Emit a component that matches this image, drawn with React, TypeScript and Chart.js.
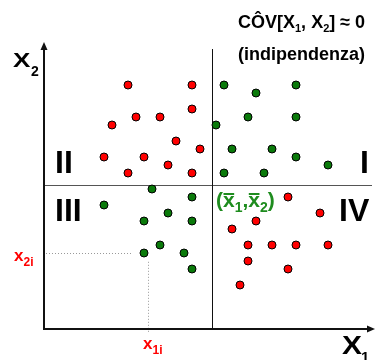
import React, { useEffect, useRef } from "react";
import { Chart, registerables } from "chart.js";

Chart.register(...registerables);

// Quadrants I & III (positive deviation products) are green, II & IV red
const redX = [11, 19, 19, 12, 15, 9, 17, 20, 8, 13, 16, 11, 19, 31, 35, 27, 24, 26, 29, 32, 36, 26, 31, 25];
const redY = [31, 31, 28, 27, 27, 26, 24, 23, 22, 22, 21, 20, 20, 17, 15, 14, 13, 11, 11, 11, 11, 9, 8, 6];
const greenX = [23, 27, 32, 26, 32, 22, 24, 29, 32, 36, 23, 28, 14, 19, 8, 16, 13, 19, 15, 13, 18, 19];
const greenY = [31, 30, 31, 27, 27, 26, 23, 23, 22, 21, 20, 20, 18, 17, 16, 15, 14, 14, 11, 10, 10, 8];

const meanX1 = 21.5;
const meanX2 = 18.5;
const originX = 0.5;
const originY = 0.5;
const sampleX1 = 13;
const sampleX2 = 10;

const X_MIN = -5;
const X_MAX = 42;
const Y_MIN = -3.375;
const Y_MAX = 41.625;

const FONT = '"Liberation Sans", Arial, sans-serif';
const RED = "#ff0000";
const GREEN = "#0a7a0a";
const LABEL_GREEN = "#1e8c1e";

type Part = [string, string, number];

function runs(ctx: CanvasRenderingContext2D, x: number, y: number, parts: Part[]) {
  let cx = x;
  const pos: number[][] = [];
  for (const [t, font, dy] of parts) {
    ctx.font = font;
    ctx.fillText(t, cx, y + dy);
    const w = ctx.measureText(t).width;
    pos.push([cx, cx + w]);
    cx += w;
  }
  return pos;
}

const overlay = {
  id: "overlay",
  beforeDatasetsDraw(chart: any) {
    const { ctx, scales } = chart;
    const X = (v: number) => scales.x.getPixelForValue(v);
    const Y = (v: number) => scales.y.getPixelForValue(v);
    ctx.save();

    // mean lines
    ctx.lineWidth = 1;
    ctx.strokeStyle = "#555";
    const hy = Math.round(Y(meanX2)) + 0.5;
    ctx.beginPath();
    ctx.moveTo(X(originX), hy);
    ctx.lineTo(X(41.5), hy);
    ctx.stroke();
    ctx.strokeStyle = "#111";
    const vx = Math.round(X(meanX1)) + 0.5;
    ctx.beginPath();
    ctx.moveTo(vx, Y(originY));
    ctx.lineTo(vx, Y(35.5));
    ctx.stroke();

    // dotted guides
    ctx.strokeStyle = "#999";
    ctx.setLineDash([1, 2]);
    const dy = Math.round(Y(sampleX2)) + 0.5;
    ctx.beginPath();
    ctx.moveTo(X(originX) + 2, dy);
    ctx.lineTo(X(sampleX1 - 1.6), dy);
    ctx.stroke();
    const dx = Math.round(X(sampleX1 + 0.5)) + 0.5;
    ctx.beginPath();
    ctx.moveTo(dx, Y(sampleX2 - 1.1));
    ctx.lineTo(dx, Y(0));
    ctx.stroke();
    ctx.setLineDash([]);

    // axes
    ctx.strokeStyle = "#111";
    ctx.fillStyle = "#111";
    ctx.lineWidth = 2;
    const ox = X(originX);
    const oy = Y(originY);
    const topY = Y(36.375);
    const rightX = X(X_MAX) - 1;
    ctx.beginPath();
    ctx.moveTo(ox, oy + 1);
    ctx.lineTo(ox, topY + 6);
    ctx.moveTo(ox - 1, oy);
    ctx.lineTo(rightX - 6, oy);
    ctx.stroke();
    ctx.beginPath();
    ctx.moveTo(ox, topY);
    ctx.lineTo(ox - 3.5, topY + 8);
    ctx.lineTo(ox + 3.5, topY + 8);
    ctx.closePath();
    ctx.fill();
    ctx.beginPath();
    ctx.moveTo(rightX, oy);
    ctx.lineTo(rightX - 8, oy - 3.5);
    ctx.lineTo(rightX - 8, oy + 3.5);
    ctx.closePath();
    ctx.fill();
    ctx.restore();
  },
  afterDatasetsDraw(chart: any) {
    const { ctx } = chart;
    ctx.save();
    ctx.textBaseline = "alphabetic";
    ctx.textAlign = "left";

    // title
    ctx.fillStyle = "#000";
    const tf = `bold 18px ${FONT}`;
    const sf = `bold 11px ${FONT}`;
    runs(ctx, 238, 28, [
      ["CÔV[X", tf, 0],
      ["1", sf, 4],
      [", X", tf, 0],
      ["2", sf, 4],
      ["] ≈ 0", tf, 0],
    ]);
    ctx.font = `bold 18px ${FONT}`;
    ctx.fillText("(indipendenza)", 238, 60);

    // axis names (wide bold)
    ctx.save();
    ctx.translate(13, 67);
    ctx.scale(1.3, 1);
    ctx.font = `bold 20px ${FONT}`;
    ctx.fillText("X", 0, 0);
    ctx.restore();
    ctx.font = `bold 14px ${FONT}`;
    ctx.fillText("2", 31, 76);

    ctx.save();
    ctx.translate(342, 354);
    ctx.scale(1.15, 1);
    ctx.font = `bold 26px ${FONT}`;
    ctx.fillText("X", 0, 0);
    ctx.restore();
    ctx.font = `bold 15px ${FONT}`;
    ctx.fillText("1", 361, 362);

    // quadrant numerals
    ctx.font = `bold 32px ${FONT}`;
    ctx.fillText("II", 55, 173);
    ctx.fillText("I", 360, 173);
    ctx.fillText("III", 55, 221);
    ctx.fillText("IV", 339, 221);

    // mean label
    ctx.fillStyle = LABEL_GREEN;
    const mf = `bold 21px ${FONT}`;
    const msf = `bold 14px ${FONT}`;
    const pos = runs(ctx, 216, 207, [
      ["(", mf, 0],
      ["x", mf, 0],
      ["1", msf, 5],
      [",", mf, 0],
      ["x", mf, 0],
      ["2", msf, 5],
      [")", mf, 0],
    ]);
    ctx.fillRect(pos[1][0] + 0.5, 193, pos[1][1] - pos[1][0] - 1, 2);
    ctx.fillRect(pos[4][0] + 0.5, 193, pos[4][1] - pos[4][0] - 1, 2);

    // sample labels
    ctx.fillStyle = RED;
    runs(ctx, 14, 261, [
      ["x", `bold 17px ${FONT}`, 0],
      ["2i", `bold 12px ${FONT}`, 5],
    ]);
    runs(ctx, 143, 349, [
      ["x", `bold 17px ${FONT}`, 0],
      ["1i", `bold 12px ${FONT}`, 5],
    ]);
    ctx.restore();
  },
};

export default function App() {
  const ref = useRef<HTMLCanvasElement | null>(null);
  useEffect(() => {
    if (!ref.current) return;
    const chart = new Chart(ref.current, {
      type: "scatter",
      data: {
        datasets: [
          {
            label: "discordanti",
            data: redX.map((x, i) => ({ x, y: redY[i] })),
            backgroundColor: RED,
            borderColor: "#000",
            borderWidth: 1,
            pointRadius: 4,
            pointHoverRadius: 4,
            clip: false,
          },
          {
            label: "concordanti",
            data: greenX.map((x, i) => ({ x, y: greenY[i] })),
            backgroundColor: GREEN,
            borderColor: "#000",
            borderWidth: 1,
            pointRadius: 4,
            pointHoverRadius: 4,
            clip: false,
          },
        ],
      },
      options: {
        responsive: false,
        animation: false,
        devicePixelRatio: 1,
        layout: { padding: 0, autoPadding: false },
        plugins: { legend: { display: false }, tooltip: { enabled: false } },
        scales: {
          x: { type: "linear", min: X_MIN, max: X_MAX, display: false },
          y: { type: "linear", min: Y_MIN, max: Y_MAX, display: false },
        },
      },
      plugins: [overlay],
    });
    return () => chart.destroy();
  }, []);
  return (
    <div style={{ position: "fixed", left: 0, top: 0, width: 376, height: 360, background: "#fff" }}>
      <canvas ref={ref} width={376} height={360} style={{ display: "block" }} />
    </div>
  );
}
